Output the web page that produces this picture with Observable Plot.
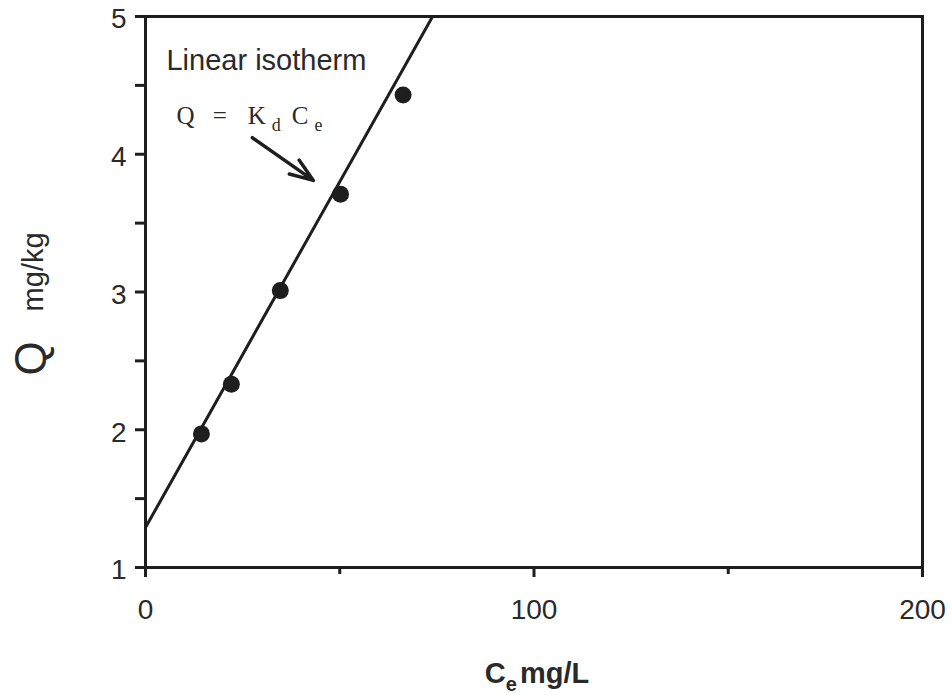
<!DOCTYPE html>
<html><head><meta charset="utf-8">
<script src="https://cdn.jsdelivr.net/npm/d3@7"></script>
<script src="https://cdn.jsdelivr.net/npm/@observablehq/plot@0.6"></script>
<style>body{margin:0;background:#fff}</style>
</head><body><div id="chart"></div>
<script>
// ---- data ----
const ce = [14.4, 22.1, 34.7, 50.2, 66.3];      // Ce mg/L
const q  = [1.97, 2.33, 3.01, 3.71, 4.43];      // Q mg/kg
const fitCe = [0, 73.9];                        // fitted linear isotherm
const fitQ  = [1.29, 5];
const xMajorTicks = [0, 100, 200];
const xMinorTicks = [50, 150];
const yTicks = [1, 1.5, 2, 2.5, 3, 3.5, 4, 4.5, 5];
const yTickLabels = ["1", "", "2", "", "3", "", "4", "", "5"];
const curveLabel = "Linear isotherm";
const equationParts = ["Q", "=", "K", "d", "C", "e"];
const xTitleParts = ["C", "e", "mg/L"];
const yTitleParts = ["Q", "mg/kg"];

// annotation anchors (data coordinates)
const labelAt = {x: 5.4, y: 4.68};
const eqAt = {x: 8.0, y: 4.28};
const arrowAt = {x1: 27.5, y1: 4.12, x2: 43.2, y2: 3.81};

const points = ce.map((x, i) => ({x, y: q[i]}));
const fit = fitCe.map((x, i) => ({x, y: fitQ[i]}));
const ink = "#1e1e1e";

const chart = Plot.plot({
  width: 952, height: 695,
  marginLeft: 145, marginRight: 30, marginTop: 16, marginBottom: 128,
  style: {fontFamily: "'Liberation Sans', Arial, sans-serif", fontSize: "28px", color: "#2a2a2a", background: "#fff"},
  x: {domain: [0, 200]},
  y: {domain: [1, 5]},
  marks: [
    Plot.frame({stroke: ink, strokeWidth: 3}),
    Plot.axisX(xMajorTicks, {tickSize: 10, tickPadding: 22, strokeWidth: 3, stroke: ink, label: null, fontSize: 28}),
    Plot.axisX(xMinorTicks, {tickSize: 7, strokeWidth: 3, stroke: ink, tickFormat: () => "", label: null}),
    Plot.axisY(yTicks, {tickSize: 10, strokeWidth: 3, stroke: ink, label: null, tickFormat: () => ""}),
    Plot.axisY(yTicks, {tickSize: 0, tickPadding: 19, label: null, fontSize: 28, dy: 3,
      tickFormat: (d) => yTickLabels[yTicks.indexOf(d)]}),
    Plot.line(fit, {x: "x", y: "y", stroke: ink, strokeWidth: 3}),
    Plot.dot(points, {x: "x", y: "y", r: 8.5, fill: ink, stroke: null}),
    Plot.text([labelAt], {x: "x", y: "y", text: () => curveLabel, textAnchor: "start", fontSize: 29, fill: "#2a2a2a"}),
    Plot.text([eqAt], {x: "x", y: "y", text: () => equationParts.join("|"), textAnchor: "start",
      fontSize: 25, fontFamily: "'Liberation Serif', 'Times New Roman', serif", fill: "#2a2a2a"}),
    Plot.arrow([arrowAt], {x1: "x1", y1: "y1", x2: "x2", y2: "y2", stroke: ink, strokeWidth: 3.5,
      headLength: 12, headAngle: 40}),
    Plot.text([xTitleParts.join("|")], {frameAnchor: "bottom", textAnchor: "middle", dy: 115, dx: 3, text: (d) => d,
      fontSize: 29, fontWeight: "bold", fill: "#2a2a2a"}),
    Plot.text([yTitleParts.join("|")], {frameAnchor: "left", textAnchor: "middle", dx: -114, dy: 12, rotate: -90, text: (d) => d,
      fontSize: 44, fill: "#2a2a2a"})
  ]
});

// rich text (sub-scripts, mixed sizes) using tspans
function rich(parts, spec) {
  const key = parts.join("|");
  d3.select(chart).selectAll("text").filter(function () { return this.textContent === key; }).each(function () {
    const t = d3.select(this);
    t.text(null);
    parts.forEach((p, i) => {
      const s = t.append("tspan").text(p);
      const o = spec[i] || {};
      if (o.dx != null) s.attr("dx", o.dx);
      if (o.dy != null) s.attr("dy", o.dy);
      if (o.fs != null) s.attr("font-size", o.fs);
    });
  });
}
rich(equationParts, [{}, {dx: 18}, {dx: 21}, {dx: 6, dy: 7, fs: 18}, {dx: 11, dy: -7}, {dx: 6, dy: 7, fs: 18}]);
rich(xTitleParts, [{}, {dy: 8, fs: 20}, {dx: 3, dy: -8}]);
rich(yTitleParts, [{}, {dx: 30, dy: -3, fs: 29}]);

document.getElementById("chart").append(chart);
</script>
</body></html>
